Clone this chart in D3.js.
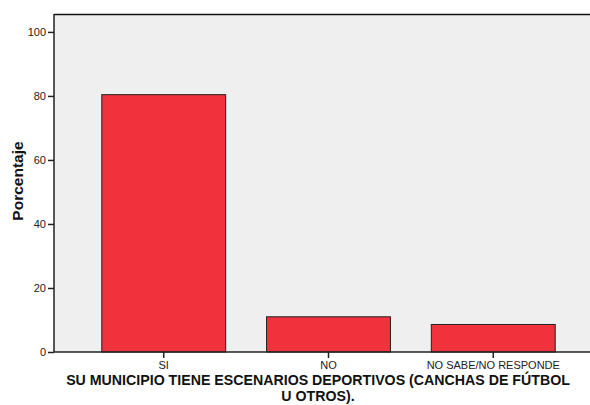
<!DOCTYPE html>
<html>
<head>
<meta charset="utf-8">
<script src="https://cdn.jsdelivr.net/npm/d3@7"></script>
<style>
  body { margin: 0; background: #fff; }
  text { font-family: "Liberation Sans", Arial, sans-serif; }
</style>
</head>
<body>
<div id="chart"></div>
<script>
var categories = ['SI', 'NO', 'NO SABE/NO RESPONDE'];
var values = [80.4, 11.0, 8.6];
var yTicks = [0, 20, 40, 60, 80, 100];

var W = 590, H = 405;
var margin = { top: 14, left: 54, bottom: 53 };
var plotBottom = H - margin.bottom;

var svg = d3.select('#chart')
  .append('svg')
    .attr('width', W)
    .attr('height', H);

var yScale = d3.scaleLinear()
  .domain([0, 105.6])
  .range([plotBottom, margin.top]);

var xScale = d3.scaleBand()
  .domain(categories)
  .range([margin.left, 603])
  .paddingInner(0.248)
  .paddingOuter(0.29);

// plot background
svg.append('rect')
  .attr('x', margin.left)
  .attr('y', margin.top)
  .attr('width', W - margin.left)
  .attr('height', plotBottom - margin.top)
  .attr('fill', '#efefef');

// bars
svg.selectAll('.bar')
  .data(values)
  .enter()
    .append('rect')
    .attr('class', 'bar')
    .attr('x', (d, i) => xScale(categories[i]))
    .attr('y', d => yScale(d))
    .attr('width', xScale.bandwidth())
    .attr('height', d => plotBottom - yScale(d))
    .attr('fill', '#f0323c')
    .attr('stroke', '#222')
    .attr('stroke-width', 1);

// top frame line
svg.append('line')
  .attr('x1', margin.left).attr('x2', W)
  .attr('y1', margin.top + 0.5).attr('y2', margin.top + 0.5)
  .attr('stroke', '#111').attr('stroke-width', 1.5);

// y axis
var yAxis = svg.append('g')
  .attr('transform', `translate(${margin.left}, 0)`)
  .call(d3.axisLeft(yScale).tickValues(yTicks).tickSize(6).tickSizeOuter(0));
yAxis.select('.domain').remove();
yAxis.append('line')
  .attr('x1', 0).attr('x2', 0)
  .attr('y1', margin.top).attr('y2', plotBottom)
  .attr('stroke', '#222').attr('stroke-width', 1.5);
yAxis.selectAll('.tick line').attr('stroke', '#222').attr('stroke-width', 1.5);
yAxis.selectAll('.tick text')
  .attr('x', -8)
  .attr('font-size', 11)
  .attr('fill', '#222')
  .style('font-family', '"Liberation Sans", Arial, sans-serif');

// x axis
var xAxis = svg.append('g')
  .attr('transform', `translate(0, ${plotBottom})`)
  .call(d3.axisBottom(xScale).tickSize(6).tickSizeOuter(0));
xAxis.select('.domain').remove();
xAxis.append('line')
  .attr('x1', margin.left).attr('x2', W)
  .attr('y1', 0).attr('y2', 0)
  .attr('stroke', '#222').attr('stroke-width', 1.5);
xAxis.selectAll('.tick line').attr('stroke', '#222').attr('stroke-width', 1.5);
xAxis.selectAll('.tick text')
  .attr('y', 9)
  .attr('font-size', 11)
  .attr('fill', '#222')
  .style('font-family', '"Liberation Sans", Arial, sans-serif');

// axis titles
svg.append('text')
  .attr('transform', 'translate(23, 181) rotate(-90)')
  .attr('text-anchor', 'middle')
  .attr('font-size', 15.5)
  .attr('font-weight', 'bold')
  .attr('fill', '#111')
  .text('Porcentaje');

var xTitle = svg.append('text')
  .attr('text-anchor', 'middle')
  .attr('font-size', 14.2)
  .attr('font-weight', 'bold')
  .attr('fill', '#111');
xTitle.append('tspan')
  .attr('x', 318).attr('y', 385)
  .text('SU MUNICIPIO TIENE ESCENARIOS DEPORTIVOS (CANCHAS DE FÚTBOL');
xTitle.append('tspan')
  .attr('x', 318).attr('y', 401)
  .text('U OTROS).');
</script>
</body>
</html>
